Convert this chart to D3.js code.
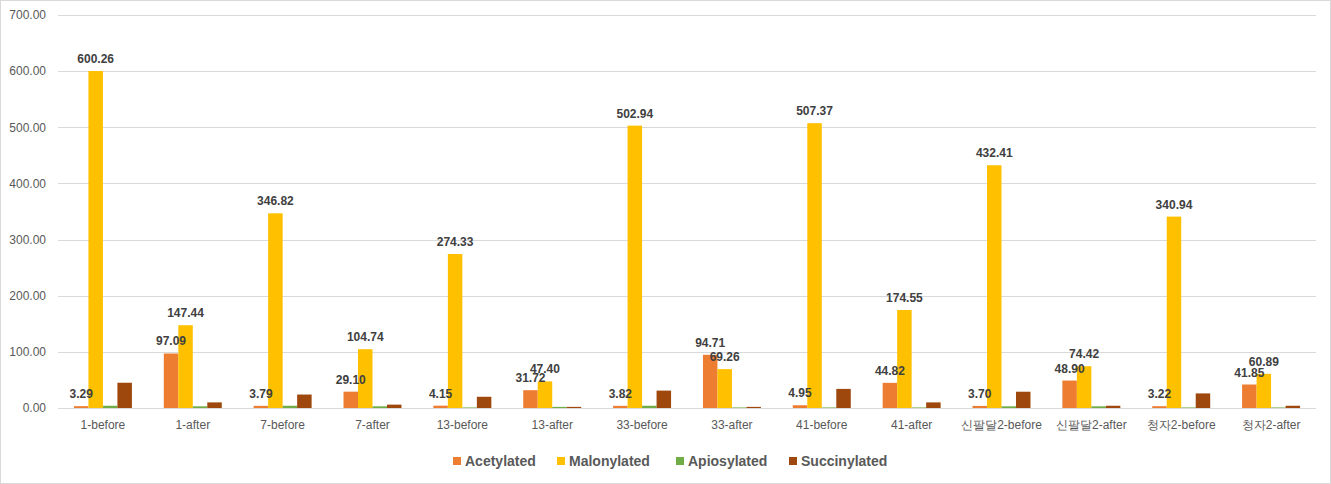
<!DOCTYPE html>
<html><head><meta charset="utf-8">
<script src="https://cdn.jsdelivr.net/npm/d3@7"></script>
<style>
body{margin:0;background:#fff;}
svg{display:block;font-family:"Liberation Sans","Noto Sans CJK KR",sans-serif;}
</style></head>
<body><svg id="c" width="1331" height="484"></svg>
<script>
const categories = ["1-before","1-after","7-before","7-after","13-before","13-after","33-before","33-after","41-before","41-after","신팔달2-before","신팔달2-after","청자2-before","청자2-after"];
const seriesNames = ["Acetylated","Malonylated","Apiosylated","Succinylated"];
const seriesColors = ["#ED7D31","#FFC000","#70AD47","#9E480E"];
const acetylated = [3.29,97.09,3.79,29.10,4.15,31.72,3.82,94.71,4.95,44.82,3.70,48.90,3.22,41.85];
const malonylated = [600.26,147.44,346.82,104.74,274.33,47.40,502.94,69.26,507.37,174.55,432.41,74.42,340.94,60.89];
const apiosylated = [4,3,4,3,1,2,4,1,1,1,3,3,1,1];
const succinylated = [45,10,24,6,20,2,31,2,34,10,29,4,26,4];
const yTicks = [0,100,200,300,400,500,600,700];
const labeled = [true,true,false,false];

(function(){
const values = [acetylated, malonylated, apiosylated, succinylated];
const svg = d3.select("#c");
svg.append("rect").attr("x",0.5).attr("y",0.5).attr("width",1330).attr("height",483)
  .attr("fill","#fff").attr("stroke","#d9d9d9");

const pl=58, pr=1316, pt=15, pb=408;
const y = d3.scaleLinear().domain([0,700]).range([pb,pt]);
const x0 = d3.scaleBand().domain(categories).range([pl,pr]).padding(0);
const x1 = d3.scaleBand().domain(seriesNames).range([0,x0.bandwidth()]).paddingInner(0).paddingOuter(1.1);

const grid = svg.append("g");
grid.selectAll("line").data(yTicks).join("line")
  .attr("x1",pl).attr("x2",pr)
  .attr("y1",d=>Math.round(y(d))+0.5).attr("y2",d=>Math.round(y(d))+0.5)
  .attr("stroke","#d9d9d9").attr("stroke-width",1);

const yAxis = d3.axisLeft(y).tickValues(yTicks).tickFormat(d=>d.toFixed(2)).tickSize(0).tickPadding(0);
const ya = svg.append("g").attr("transform","translate(46,0)").call(yAxis);
ya.select(".domain").remove();
ya.selectAll("text").attr("fill","#595959").attr("font-size","12px");

const xAxis = d3.axisBottom(x0).tickSize(0).tickPadding(0);
const xa = svg.append("g").attr("transform",`translate(0,${pb+12})`).call(xAxis);
xa.select(".domain").remove();
xa.selectAll("text").attr("fill","#595959").attr("font-size","12px").attr("dy","0.71em");

const barLayer = svg.append("g");
const labelLayer = svg.append("g");
seriesNames.forEach((s,si)=>{
  barLayer.append("g").selectAll("rect").data(categories).join("rect")
    .attr("x",c=>x0(c)+x1(s))
    .attr("width",x1.bandwidth())
    .attr("y",(c,i)=>y(values[si][i]))
    .attr("height",(c,i)=>pb-y(values[si][i]))
    .attr("fill",seriesColors[si]);
  if(labeled[si]){
    labelLayer.append("g").selectAll("text").data(categories).join("text")
      .attr("x",c=>x0(c)+x1(s)+x1.bandwidth()/2)
      .attr("y",(c,i)=>y(values[si][i])-8)
      .attr("text-anchor","middle")
      .attr("font-size","12px").attr("font-weight","bold").attr("fill","#404040")
      .text((c,i)=>values[si][i].toFixed(2));
  }
});

const legendX = [453,557,676,789];
const lg = svg.append("g");
seriesNames.forEach((s,i)=>{
  lg.append("rect").attr("x",legendX[i]).attr("y",457).attr("width",8).attr("height",8).attr("fill",seriesColors[i]);
  lg.append("text").attr("x",legendX[i]+12).attr("y",466).attr("font-size","14px").attr("font-weight","bold")
    .attr("fill","#595959").text(s);
});
})();
</script></body></html>
